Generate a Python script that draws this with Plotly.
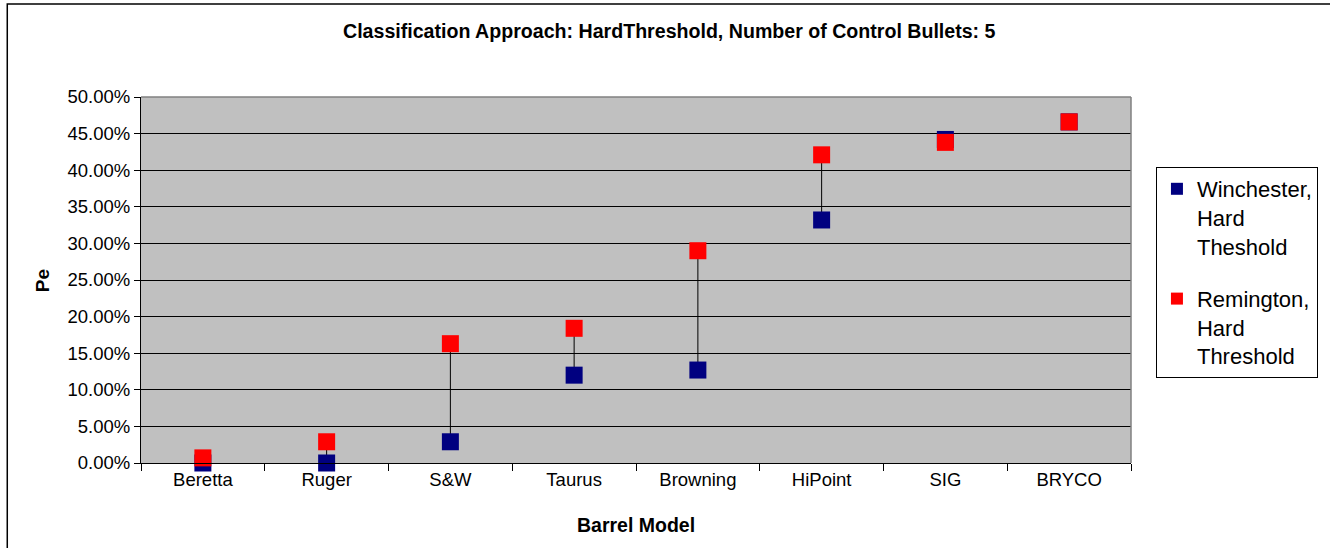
import plotly.graph_objects as go

categories = ["Beretta", "Ruger", "S&W", "Taurus", "Browning", "HiPoint", "SIG", "BRYCO"]
winchester = [0.000, 0.000, 0.029, 0.120, 0.127, 0.332, 0.442, 0.466]
remington = [0.007, 0.029, 0.163, 0.184, 0.290, 0.421, 0.438, 0.466]
y_ticks = [0.0, 0.05, 0.10, 0.15, 0.20, 0.25, 0.30, 0.35, 0.40, 0.45, 0.50]

W, H = 1330, 548
PL, PR, PT, PB = 141, 1133, 97, 463  # plot area in screen pixels
L, T = PL, PT
R, B = W - PR, H - PB
pw, ph = W - L - R, H - T - B

FONT = "Liberation Sans, Arial, sans-serif"


def px_x(p):
    return (p - PL) / pw


def px_y(p):
    return (PB - p) / ph


# high-low connector lines between the two series
lx, ly = [], []
for c, a, b in zip(categories, winchester, remington):
    lx += [c, c, None]
    ly += [a, b, None]

fig = go.Figure()
fig.add_trace(go.Scatter(x=lx, y=ly, mode="lines", line=dict(color="black", width=1),
                         showlegend=False, hoverinfo="skip", cliponaxis=False))
fig.add_trace(go.Scatter(x=categories, y=winchester, mode="markers",
                         name="Winchester,<br>Hard<br>Theshold",
                         marker=dict(symbol="square", size=17, color="#000080",
                                     line=dict(width=0)),
                         cliponaxis=False, legendgroup="a"))
fig.add_trace(go.Scatter(x=categories, y=remington, mode="markers",
                         name="Remington,<br>Hard<br>Threshold",
                         marker=dict(symbol="square", size=17, color="#FF0000",
                                     line=dict(width=0)),
                         cliponaxis=False, legendgroup="b"))

shapes = [
    dict(type="rect", xref="paper", yref="paper", x0=px_x(7), x1=px_x(1345), y0=px_y(4), y1=px_y(565),
         line=dict(color="black", width=1.5), fillcolor="rgba(0,0,0,0)", layer="below"),
    dict(type="line", xref="paper", yref="paper", x0=0, x1=1, y0=1, y1=1,
         line=dict(color="#808080", width=1.5)),
    dict(type="line", xref="paper", yref="paper", x0=1, x1=1, y0=0, y1=1,
         line=dict(color="#808080", width=1.5)),
]

annotations = [
    dict(text="<b>Classification Approach: HardThreshold, Number of Control Bullets: 5</b>",
         xref="paper", yref="paper", x=px_x(671), y=px_y(31), xanchor="center", yanchor="middle",
         showarrow=False, font=dict(size=19.6, family=FONT)),
    dict(text="<b>Barrel Model</b>", xref="paper", yref="paper", x=px_x(637), y=px_y(525),
         xanchor="center", yanchor="middle", showarrow=False, font=dict(size=19.5, family=FONT)),
    dict(text="<b>Pe</b>", xref="paper", yref="paper", x=px_x(42), y=px_y(281),
         xanchor="center", yanchor="middle", textangle=-90, showarrow=False,
         font=dict(size=19, family=FONT)),
]

fig.update_layout(
    width=W, height=H,
    margin=dict(l=L, r=R, t=T, b=B),
    paper_bgcolor="white",
    plot_bgcolor="#C0C0C0",
    font=dict(family=FONT, color="black", size=18),
    xaxis=dict(type="category", categoryorder="array", categoryarray=categories,
               range=[-0.5, len(categories) - 0.5],
               showline=True, linecolor="black", linewidth=1,
               ticks="outside", ticklen=7, tickcolor="black", tickson="boundaries",
               showgrid=False, zeroline=False,
               tickfont=dict(size=18.5)),
    yaxis=dict(range=[0, 0.5], tickvals=y_ticks, tickformat=".2%",
               showline=True, linecolor="black", linewidth=1,
               ticks="outside", ticklen=6, tickcolor="black",
               showgrid=True, gridcolor="black", gridwidth=1, zeroline=False,
               tickfont=dict(size=18.5)),
    legend=dict(x=px_x(1158), y=px_y(167), xanchor="left", yanchor="top",
                bgcolor="white", bordercolor="black", borderwidth=1,
                font=dict(size=22, family=FONT), tracegroupgap=21, valign="top",
                itemsizing="constant"),
    shapes=shapes,
    annotations=annotations,
)

fig.write_html("out.html", config={"displayModeBar": False},
               post_script="document.body.style.margin='0px';document.body.style.overflow='hidden';")
